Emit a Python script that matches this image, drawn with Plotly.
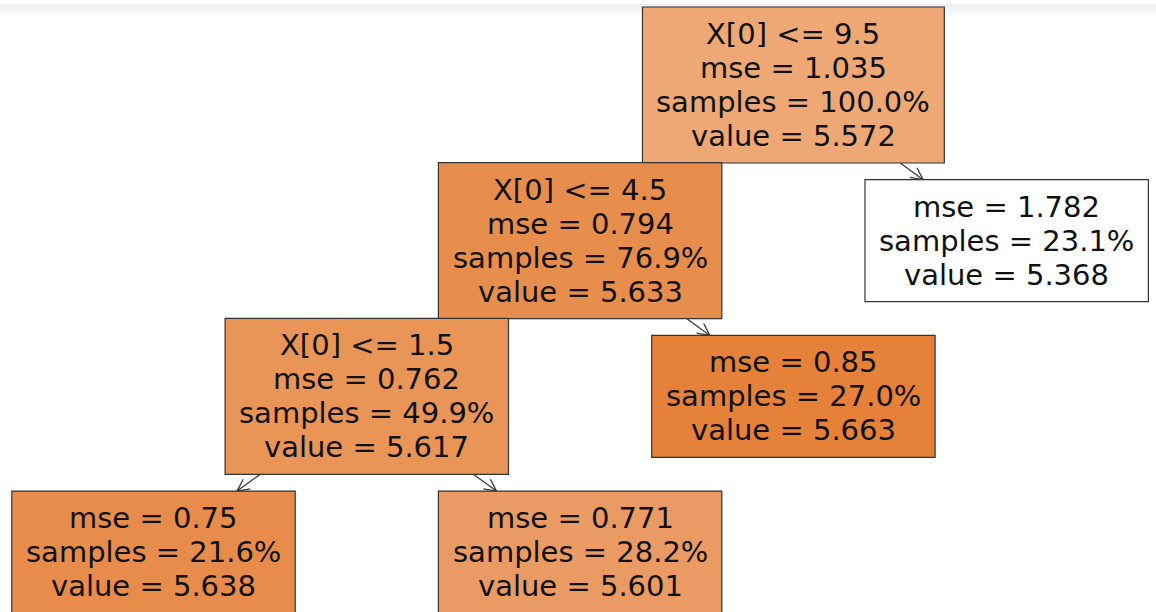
import plotly.graph_objects as go

# ---------------- data (sklearn node order, pre-order) ----------------
split_labels = ["X[0] <= 9.5", "X[0] <= 4.5", "X[0] <= 1.5", "", "", "", ""]
mse_values = [1.035, 0.794, 0.762, 0.75, 0.771, 0.85, 1.782]
samples_pct = [100.0, 76.9, 49.9, 21.6, 28.2, 27.0, 23.1]
node_values = [5.572, 5.633, 5.617, 5.638, 5.601, 5.663, 5.368]
parents = [None, 0, 1, 2, 2, 1, 0]

# ---------------- layout (tree-layout units, not data) ----------------
x_units = [3, 2, 1, 0, 2, 3, 4]          # horizontal slot of each node
PX_PER_X = 213.3                           # pixels per horizontal slot
PX_PER_DEPTH = 155.7                       # pixels per tree level
X0_PX = 153.5                              # pixel centre of slot 0
Y0_PX = 85.0                               # pixel centre of depth 0
W, H = 1156, 612
FONT = "DejaVu Sans"
FS = 29
LINE_PX = 34
PAD_X = 14
PAD_Y = 10
BASE_RGB = (229, 129, 57)

# DejaVu Sans advance widths (units of 1/2048 em)
ADV = {'X': 1401, '[': 799, ']': 799, ' ': 651, '<': 1716, '=': 1716, '.': 651,
       'm': 1995, 's': 1067, 'e': 1260, 'a': 1255, 'p': 1300, 'l': 569,
       'v': 1212, 'u': 1298, '%': 1946}
for d in "0123456789":
    ADV[d] = 1303


def text_w(t):
    return sum(ADV.get(c, 1250) for c in t) / 2048.0 * FS


def depth(i):
    d = 0
    while parents[i] is not None:
        i = parents[i]
        d += 1
    return d


def px2ux(px):
    return (px - X0_PX) / PX_PER_X


def py2uy(py):
    return (py - Y0_PX) / PX_PER_DEPTH


vmin, vmax = min(node_values), max(node_values)


def node_color(v):
    a = (v - vmin) / (vmax - vmin)
    r, g, b = [int(round(a * c + (1 - a) * 255)) for c in BASE_RGB]
    return f"rgb({r},{g},{b})"


fig = go.Figure()
shapes = []
annotations = []

# geometry in pixels for each node
geo = []
for i in range(len(node_values)):
    lines = []
    if split_labels[i]:
        lines.append(split_labels[i])
    lines.append(f"mse = {round(mse_values[i], 3)}")
    lines.append(f"samples = {samples_pct[i]:.1f}%")
    lines.append(f"value = {node_values[i]:.3f}")
    cx = X0_PX + x_units[i] * PX_PER_X
    cy = Y0_PX + depth(i) * PX_PER_DEPTH
    hw = max(text_w(t) for t in lines) / 2 + PAD_X
    hh = (LINE_PX * len(lines)) / 2 + PAD_Y
    geo.append((cx, cy, hw, hh, lines))

# arrows (drawn first, clipped at box edges)
ax_x, ax_y = [], []
for i, p in enumerate(parents):
    if p is None:
        continue
    pcx, pcy, phw, phh, _ = geo[p]
    ccx, ccy, chw, chh, _ = geo[i]
    dx, dy = ccx - pcx, ccy - pcy
    t0 = min(phw / abs(dx) if dx else 1e9, phh / abs(dy))
    t1 = 1 - min(chw / abs(dx) if dx else 1e9, chh / abs(dy))
    if t1 - t0 < 0.02:
        continue
    sx, sy = pcx + dx * t0, pcy + dy * t0
    ex, ey = pcx + dx * t1, pcy + dy * t1
    L = (dx ** 2 + dy ** 2) ** 0.5
    ux, uy = dx / L, dy / L
    hl, hwid = 12.0, 6.0
    bx, by = ex - ux * hl, ey - uy * hl
    nx, ny = -uy, ux
    ax_x += [px2ux(sx), px2ux(ex), None,
             px2ux(bx + nx * hwid), px2ux(ex), px2ux(bx - nx * hwid), None]
    ax_y += [py2uy(sy), py2uy(ey), None,
             py2uy(by + ny * hwid), py2uy(ey), py2uy(by - ny * hwid), None]

fig.add_trace(go.Scatter(x=ax_x, y=ax_y, mode="lines",
                         line=dict(color="#3a3a3a", width=1.3),
                         hoverinfo="skip", showlegend=False))

# boxes and text
for i, (cx, cy, hw, hh, lines) in enumerate(geo):
    shapes.append(dict(type="rect", xref="x", yref="y",
                       x0=px2ux(cx - hw), x1=px2ux(cx + hw),
                       y0=py2uy(cy - hh), y1=py2uy(cy + hh),
                       fillcolor=node_color(node_values[i]),
                       line=dict(color="#333333", width=1.2), layer="above"))
    n = len(lines)
    for k, t in enumerate(lines):
        ly = cy + (k - (n - 1) / 2) * LINE_PX
        annotations.append(dict(x=px2ux(cx), y=py2uy(ly), xref="x", yref="y",
                                text=t, showarrow=False, xanchor="center",
                                yanchor="middle",
                                font=dict(family=FONT, size=FS, color="#111111")))

# faint grey strip along the top edge
strip = [(4, 7, "#efefef"), (7, 10, "#f3f3f3"), (10, 13, "#f7f7f7"), (13, 16, "#fbfbfb")]
for a, b, c in strip:
    shapes.append(dict(type="rect", xref="paper", yref="paper", x0=0, x1=1,
                       y0=1 - b / H, y1=1 - a / H, fillcolor=c, line=dict(width=0),
                       layer="below"))

fig.update_layout(
    width=W, height=H, margin=dict(l=0, r=0, t=0, b=0),
    paper_bgcolor="white", plot_bgcolor="white",
    xaxis=dict(range=[px2ux(0), px2ux(W)], visible=False, fixedrange=True),
    yaxis=dict(range=[py2uy(H), py2uy(0)], visible=False, fixedrange=True),
    shapes=shapes, annotations=annotations, showlegend=False,
)

fig.write_html(
    "out.html",
    config={"displayModeBar": False},
    post_script="document.body.style.margin='0';document.body.style.overflow='hidden';",
)
